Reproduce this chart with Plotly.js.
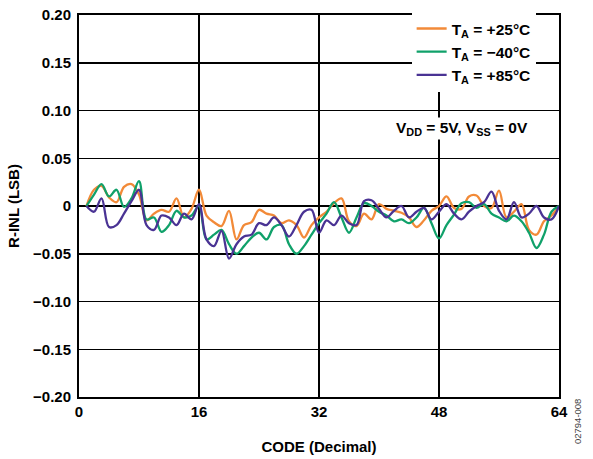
<!DOCTYPE html>
<html>
<head>
<meta charset="utf-8">
<script src="https://cdn.plot.ly/plotly-3.0.1.min.js"></script>
<style>html,body{margin:0;padding:0;background:#fff;}#chart{width:593px;height:459px;}</style>
</head>
<body>
<div id="chart"></div>
<script>
// codes 1..64
const codes = [];
for (let i = 1; i <= 64; i++) codes.push(i);

const inl25 = [0.000,0.017,0.021,0.009,0.004,0.020,0.023,0.012,-0.015,-0.008,
  -0.004,-0.006,0.008,-0.012,-0.003,0.017,-0.010,-0.017,-0.021,-0.005,
  -0.035,-0.020,-0.017,-0.004,-0.008,-0.010,-0.018,-0.015,-0.020,-0.033,
  -0.020,-0.012,-0.006,0.003,0.008,-0.016,-0.021,-0.008,-0.014,0.002,
  -0.003,-0.005,-0.007,-0.012,-0.022,-0.015,-0.005,0.000,0.010,-0.002,
  -0.003,0.010,0.011,0.000,-0.002,0.016,-0.012,-0.006,0.002,-0.025,
  -0.030,-0.016,-0.010,0.000];

const inlM40 = [0.000,0.012,0.023,0.010,0.017,-0.001,0.008,0.026,-0.014,-0.012,
  -0.027,-0.020,-0.005,-0.012,-0.010,0.000,-0.035,-0.030,-0.025,-0.040,
  -0.050,-0.042,-0.033,-0.028,-0.035,-0.022,-0.020,-0.040,-0.050,-0.042,
  -0.030,-0.018,-0.008,0.004,-0.012,-0.028,-0.012,0.003,0.000,-0.006,
  -0.010,-0.016,-0.014,-0.018,-0.012,-0.002,-0.018,-0.034,-0.020,-0.009,
  0.003,0.004,-0.002,0.002,-0.008,-0.012,-0.016,-0.010,-0.016,-0.028,
  -0.044,-0.030,-0.006,0.000];

const inl85 = [0.000,-0.006,0.008,-0.022,-0.020,-0.008,0.005,0.017,-0.020,-0.025,
  -0.010,-0.012,-0.020,-0.008,-0.014,0.002,-0.035,-0.042,-0.026,-0.055,
  -0.040,-0.032,-0.030,-0.018,-0.020,-0.012,-0.020,-0.032,-0.020,-0.006,
  -0.004,-0.028,-0.015,-0.020,-0.010,-0.018,-0.020,0.005,0.006,-0.003,
  -0.012,-0.005,0.000,-0.012,-0.006,-0.002,-0.014,-0.006,0.002,-0.008,
  -0.014,-0.006,0.000,0.004,0.015,-0.005,-0.014,0.004,-0.012,-0.008,
  0.000,-0.012,-0.014,0.000];

const yTickVals = [0.20,0.15,0.10,0.05,0,-0.05,-0.10,-0.15,-0.20];
const yTickText = ["0.20","0.15","0.10","0.05","0","\u22120.05","\u22120.10","\u22120.15","\u22120.20"];
const xTickVals = [0,16,32,48,64];
const xTickText = ["0","16","32","48","64"];

const FONT = "Liberation Sans, Arial, Helvetica, sans-serif";
const line = (c) => ({color:c, width:2.3, shape:'spline', smoothing:1});

const traces = [
  {x:codes, y:inl25, mode:'lines', name:'T<sub>A</sub> = +25°C', line:line('#F28A38')},
  {x:codes, y:inlM40, mode:'lines', name:'T<sub>A</sub> = \u221240°C', line:line('#10A16A')},
  {x:codes, y:inl85, mode:'lines', name:'T<sub>A</sub> = +85°C', line:line('#4A3394')}
];

const layout = {
  width:593, height:459,
  margin:{l:79, r:34, t:15, b:62},
  paper_bgcolor:'#fff', plot_bgcolor:'#fff',
  font:{family:FONT, color:'#000', size:15},
  showlegend:true,
  legend:{x:0.693, y:1.008, xanchor:'left', yanchor:'top', bgcolor:'#fff',
    font:{family:FONT, size:15.5, weight:'bold'}, borderwidth:0, tracegroupgap:0,
    itemwidth:30},
  xaxis:{range:[0,64], tickvals:xTickVals, ticktext:xTickText, showgrid:true,
    gridcolor:'#000', gridwidth:1.5, zeroline:false, showline:true, linecolor:'#000',
    linewidth:2, mirror:true, ticks:'', tickfont:{family:FONT, size:15, weight:'bold'},
    title:{text:'CODE (Decimal)', font:{family:FONT, size:15, weight:'bold'}, standoff:22}},
  yaxis:{range:[-0.20,0.20], tickvals:yTickVals, ticktext:yTickText, showgrid:true,
    gridcolor:'#000', gridwidth:1.5, zeroline:false, showline:true, linecolor:'#000',
    linewidth:2, mirror:true, ticks:'', ticklabelstandoff:3,
    tickfont:{family:FONT, size:15, weight:'bold'},
    title:{text:'R-INL (LSB)', font:{family:FONT, size:15, weight:'bold'}, standoff:10}},
  annotations:[
    {xref:'paper', yref:'paper', x:0.94, y:0.704, xanchor:'right', yanchor:'middle',
     text:'V<sub>DD</sub> = 5V, V<sub>SS</sub> = 0V', showarrow:false, bgcolor:'#fff',
     font:{family:FONT, size:15.5, weight:'bold'}},
    {xref:'paper', yref:'paper', x:1.04, y:-0.065, xanchor:'center', yanchor:'middle',
     text:'02794-008', textangle:-90, showarrow:false,
     font:{family:FONT, size:9.5, color:'#444'}}
  ]
};

Plotly.newPlot('chart', traces, layout, {displayModeBar:false, staticPlot:true});
</script>
</body>
</html>
